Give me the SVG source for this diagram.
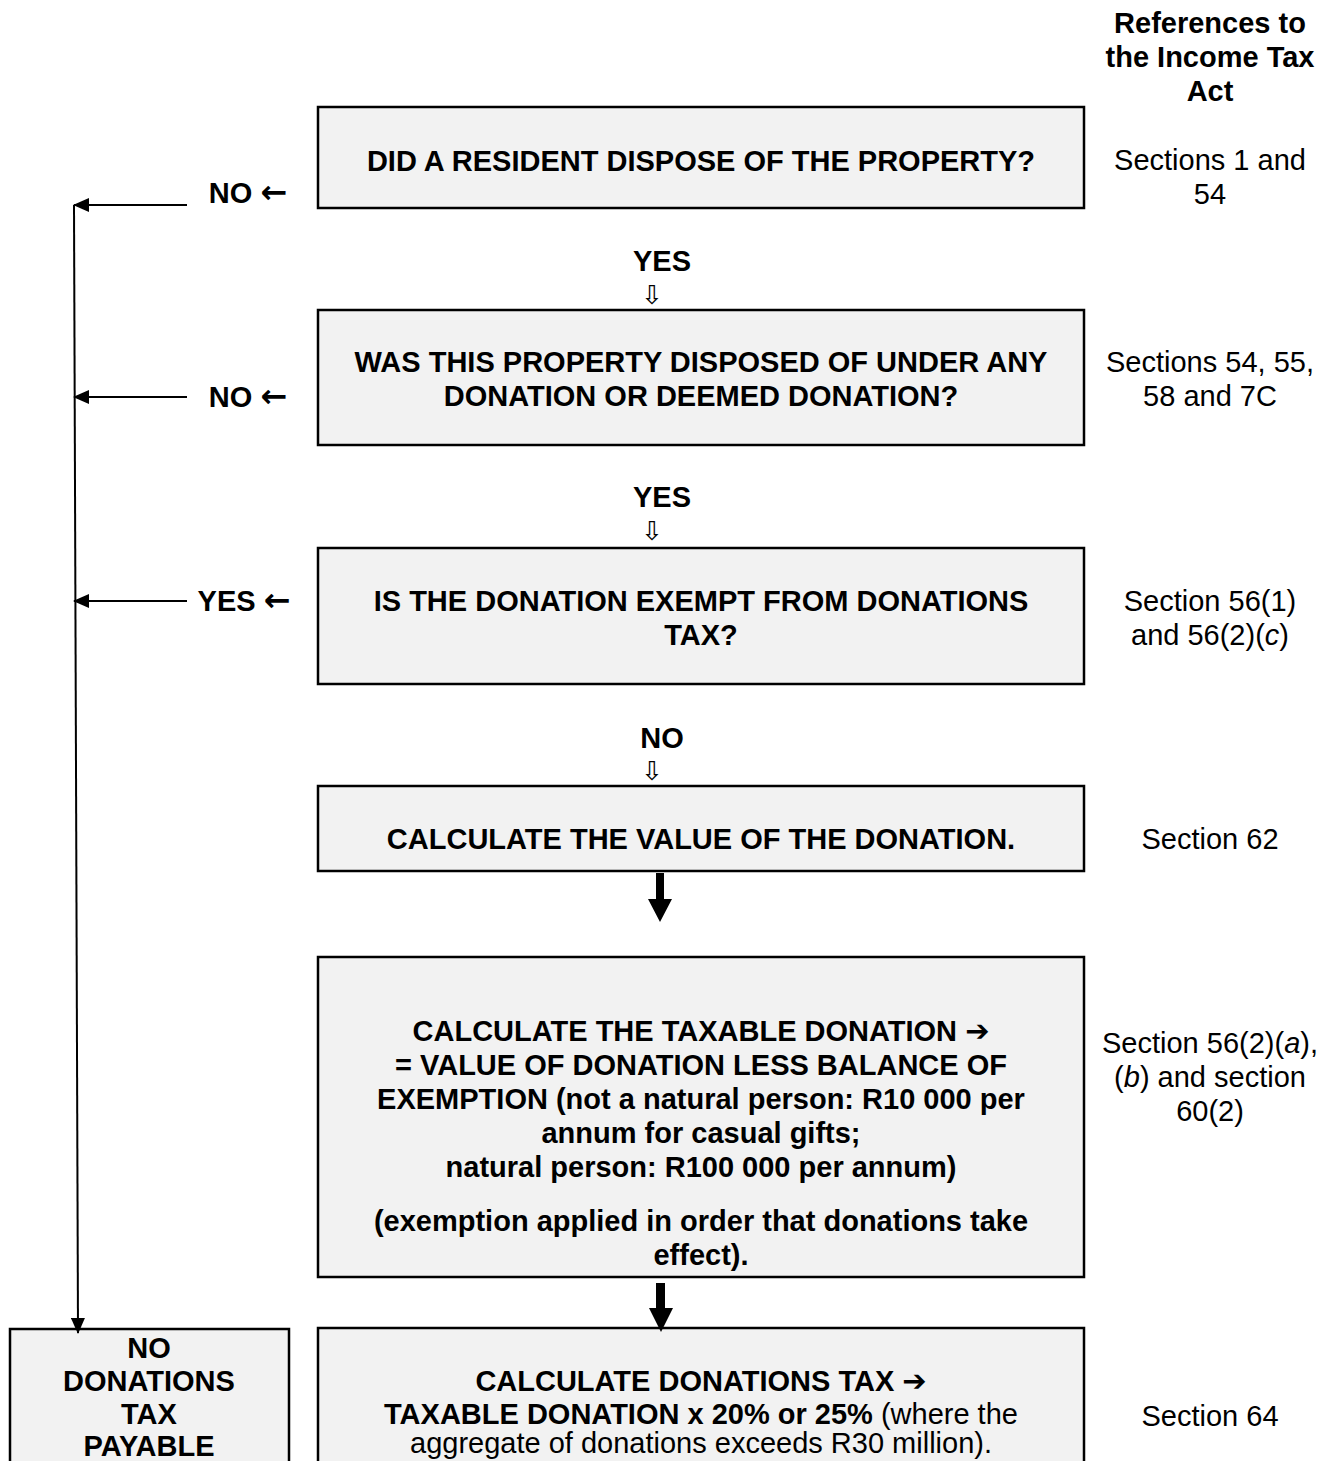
<svg xmlns="http://www.w3.org/2000/svg" width="1333" height="1461" viewBox="0 0 1333 1461">
<defs>
<style>
.box{fill:#f2f2f2;stroke:#000;stroke-width:2.5}
.b{font-family:"Liberation Sans",Arial,sans-serif;font-weight:bold;font-size:29px;fill:#000;text-anchor:middle}
.n{font-family:"Liberation Sans",Arial,sans-serif;font-size:29px;fill:#000;text-anchor:middle}
.sym{font-family:"DejaVu Sans",sans-serif;font-weight:bold}
.hol{font-family:"DejaVu Sans",sans-serif;font-size:26px;text-anchor:middle;fill:#000}
.thin{stroke:#000;stroke-width:2;fill:none}
</style>
<marker id="ah" markerWidth="16" markerHeight="14" refX="15" refY="7" orient="auto" markerUnits="userSpaceOnUse">
<path d="M0,0 L16,7 L0,14 Z" fill="#000"/>
</marker>
</defs>
<rect width="1333" height="1461" fill="#fff"/>

<g id="refs-header">
<text class="b" x="1210" y="33">References to</text>
<text class="b" x="1210" y="67">the Income Tax</text>
<text class="b" x="1210" y="101">Act</text>
</g>

<g id="node1">
<rect class="box" x="318" y="107" width="766" height="101"/>
<text class="b" x="701" y="171">DID A RESIDENT DISPOSE OF THE PROPERTY?</text>
</g>
<g id="ref1">
<text class="n" x="1210" y="170">Sections 1 and</text>
<text class="n" x="1210" y="204">54</text>
</g>

<g id="node2">
<rect class="box" x="318" y="310" width="766" height="135"/>
<text class="b" x="701" y="372">WAS THIS PROPERTY DISPOSED OF UNDER ANY</text>
<text class="b" x="701" y="406">DONATION OR DEEMED DONATION?</text>
</g>
<g id="ref2">
<text class="n" x="1210" y="372">Sections 54, 55,</text>
<text class="n" x="1210" y="406">58 and 7C</text>
</g>

<g id="node3">
<rect class="box" x="318" y="548" width="766" height="136"/>
<text class="b" x="701" y="611">IS THE DONATION EXEMPT FROM DONATIONS</text>
<text class="b" x="701" y="645">TAX?</text>
</g>
<g id="ref3">
<text class="n" x="1210" y="611">Section 56(1)</text>
<text class="n" x="1210" y="645">and 56(2)(<tspan font-style="italic">c</tspan>)</text>
</g>

<g id="node4">
<rect class="box" x="318" y="786" width="766" height="85"/>
<text class="b" x="701" y="849">CALCULATE THE VALUE OF THE DONATION.</text>
</g>
<g id="ref4">
<text class="n" x="1210" y="849">Section 62</text>
</g>

<g id="node5">
<rect class="box" x="318" y="957" width="766" height="320"/>
<text class="b" x="701" y="1041">CALCULATE THE TAXABLE DONATION <tspan class="sym">➔</tspan></text>
<text class="b" x="701" y="1075">= VALUE OF DONATION LESS BALANCE OF</text>
<text class="b" x="701" y="1109">EXEMPTION (not a natural person: R10 000 per</text>
<text class="b" x="701" y="1143">annum for casual gifts;</text>
<text class="b" x="701" y="1177">natural person: R100 000 per annum)</text>
<text class="b" x="701" y="1231">(exemption applied in order that donations take</text>
<text class="b" x="701" y="1265">effect).</text>
</g>
<g id="ref5">
<text class="n" x="1210" y="1053">Section 56(2)(<tspan font-style="italic">a</tspan>),</text>
<text class="n" x="1210" y="1087">(<tspan font-style="italic">b</tspan>) and section</text>
<text class="n" x="1210" y="1121">60(2)</text>
</g>

<g id="node6">
<rect class="box" x="318" y="1328" width="766" height="150"/>
<text class="b" x="701" y="1391">CALCULATE DONATIONS TAX <tspan class="sym">➔</tspan></text>
<text class="n" x="701" y="1424"><tspan font-weight="bold">TAXABLE DONATION x 20% or 25%</tspan> (where the</text>
<text class="n" x="701" y="1453">aggregate of donations exceeds R30 million).</text>
</g>
<g id="ref6">
<text class="n" x="1210" y="1426">Section 64</text>
</g>

<g id="node7">
<rect class="box" x="10" y="1329" width="279" height="150"/>
<text class="b" x="149" y="1358">NO</text>
<text class="b" x="149" y="1391">DONATIONS</text>
<text class="b" x="149" y="1424">TAX</text>
<text class="b" x="149" y="1456">PAYABLE</text>
</g>

<g id="labels">
<text class="b" x="248" y="203">NO <tspan class="sym" font-size="32">←</tspan></text>
<text class="b" x="248" y="407">NO <tspan class="sym" font-size="32">←</tspan></text>
<text class="b" x="244" y="611">YES <tspan class="sym" font-size="32">←</tspan></text>
<text class="b" x="662" y="271">YES</text>
<text class="b" x="662" y="507">YES</text>
<text class="b" x="662" y="748">NO</text>
<text class="hol" x="652" y="304">⇩</text>
<text class="hol" x="652" y="540">⇩</text>
<text class="hol" x="652" y="780">⇩</text>
</g>

<g id="connectors">
<line class="thin" x1="187" y1="205" x2="74" y2="205" marker-end="url(#ah)"/>
<line class="thin" x1="187" y1="397" x2="74" y2="397" marker-end="url(#ah)"/>
<line class="thin" x1="187" y1="601" x2="74" y2="601" marker-end="url(#ah)"/>
<line class="thin" x1="74" y1="205" x2="78" y2="1333" marker-end="url(#ah)"/>
<path d="M656,873 H664 V899 H672 L660,922 L648,899 H656 Z" fill="#000"/>
<path d="M656,1283 H665 V1308 H673 L661,1332 L649,1308 H656 Z" fill="#000"/>
</g>
</svg>
